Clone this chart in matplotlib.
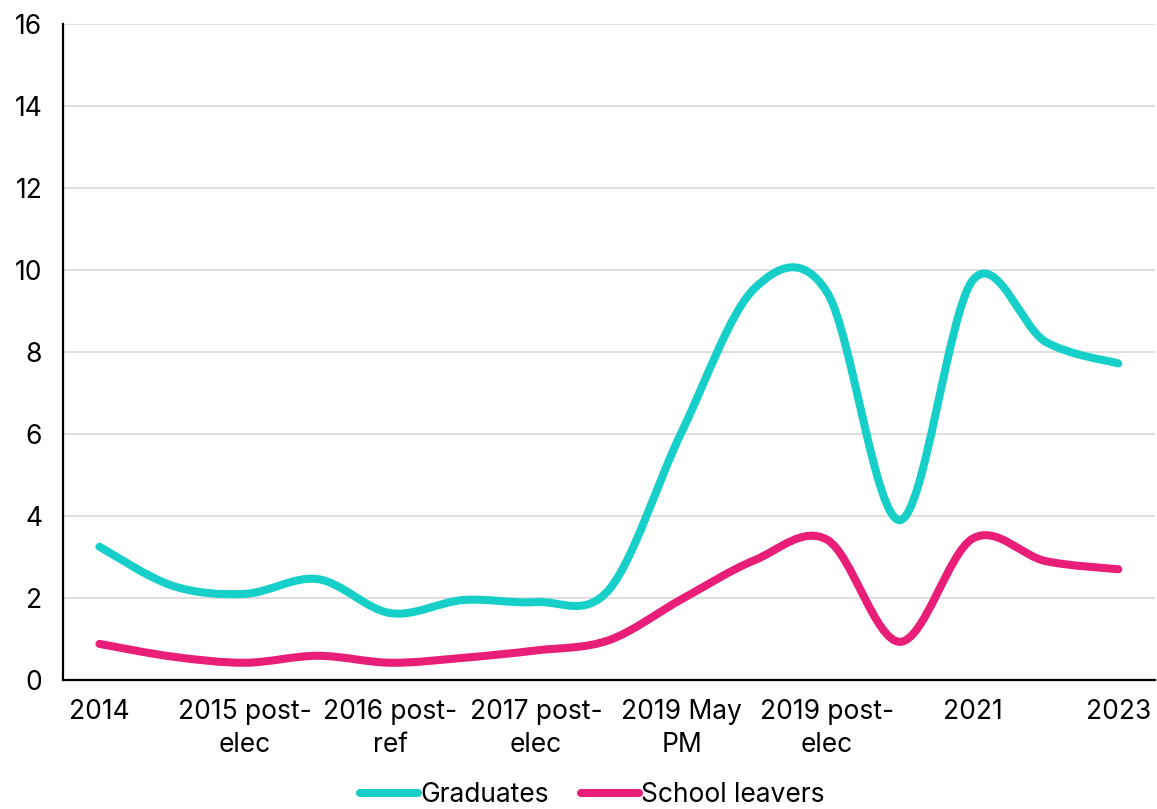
import numpy as np
import matplotlib
matplotlib.use('Agg')
import matplotlib.pyplot as plt
from matplotlib.path import Path
from matplotlib.patches import PathPatch
from matplotlib.lines import Line2D

# survey waves (only every second one gets a label on the axis)
tick_labels = ['2014', '2015 post-\nelec', '2016 post-\nref', '2017 post-\nelec',
               '2019 May\nPM', '2019 post-\nelec', '2021', '2023']
graduates = [3.25, 2.3, 2.1, 2.46, 1.63, 1.95, 1.9, 2.2,
             6.05, 9.55, 9.45, 3.9, 9.75, 8.25, 7.72]
school_leavers = [0.88, 0.57, 0.42, 0.59, 0.42, 0.54, 0.72, 0.97,
                  1.97, 2.92, 3.42, 0.93, 3.45, 2.9, 2.7]

teal = '#16cfc9'
pink = '#e91e78'

plt.rcParams['font.family'] = ['Inter', 'DejaVu Sans']


def smooth_path(x, y):
    # cubic bezier through every point, catmull-rom style tangents
    pts = np.column_stack([x, y]).astype(float)
    n = len(pts)
    verts = [pts[0]]
    codes = [Path.MOVETO]
    for i in range(n - 1):
        p0 = pts[max(i - 1, 0)]
        p1 = pts[i]
        p2 = pts[i + 1]
        p3 = pts[min(i + 2, n - 1)]
        c1 = p1 + (p2 - p0) / 6.0
        c2 = p2 - (p3 - p1) / 6.0
        verts += [c1, c2, p2]
        codes += [Path.CURVE4] * 3
    return Path(verts, codes)


fig = plt.figure(figsize=(11.57, 8.09), dpi=100)
ax = fig.add_axes([0.0545, 0.1595, 0.9435, 0.8108])

x = np.arange(len(graduates))
for vals, col in [(graduates, teal), (school_leavers, pink)]:
    patch = PathPatch(smooth_path(x, vals), facecolor='none', edgecolor=col,
                      lw=5.8, capstyle='round', joinstyle='round', zorder=3)
    ax.add_patch(patch)

ax.set_xlim(-0.5, len(graduates) - 0.5)
ax.set_ylim(0, 16)
ax.set_yticks(np.arange(0, 17, 2))
ax.set_xticks(x[::2])
ax.set_xticklabels(tick_labels, linespacing=1.35)

ax.grid(axis='y', color='#d9d9d9', lw=1.2)
ax.set_axisbelow(True)
for side in ['top', 'right']:
    ax.spines[side].set_visible(False)
for side in ['left', 'bottom']:
    ax.spines[side].set_color('black')
    ax.spines[side].set_linewidth(1.6)
    ax.spines[side].set_zorder(4)

ax.tick_params(axis='y', length=0, pad=15, labelsize=19)
ax.tick_params(axis='x', length=0, pad=14, labelsize=19)

handles = [Line2D([], [], color=teal, lw=5.8, solid_capstyle='round'),
           Line2D([], [], color=pink, lw=5.8, solid_capstyle='round')]
fig.legend(handles, ['Graduates', 'School leavers'], loc='center',
           bbox_to_anchor=(0.512, 0.017), ncol=2, frameon=False,
           fontsize=19, handlelength=2.2, handletextpad=0.1,
           columnspacing=1.2, borderpad=0)

fig.savefig('out.png', dpi=100)
